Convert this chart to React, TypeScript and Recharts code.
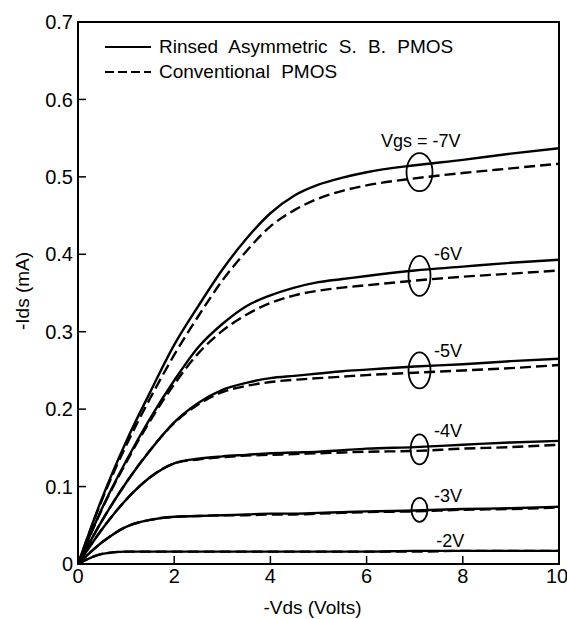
import { LineChart, Line, XAxis, YAxis, ReferenceDot, ReferenceArea, Legend, Label } from 'recharts'

const vds = [0, 0.5, 1, 1.5, 2, 2.5, 3, 3.5, 4, 4.5, 5, 5.5, 6, 7, 8, 9, 10]

// -Ids (mA), solid = rinsed asymmetric S.B. PMOS, dashed = conventional PMOS
const rinsed7 = [0, 0.085, 0.158, 0.222, 0.283, 0.333, 0.38, 0.42, 0.453, 0.476, 0.49, 0.499, 0.506, 0.515, 0.522, 0.53, 0.537]
const conv7 = [0, 0.083, 0.153, 0.214, 0.27, 0.32, 0.366, 0.404, 0.436, 0.457, 0.472, 0.482, 0.489, 0.498, 0.505, 0.511, 0.517]
const rinsed6 = [0, 0.072, 0.133, 0.188, 0.237, 0.28, 0.31, 0.333, 0.347, 0.357, 0.364, 0.368, 0.372, 0.379, 0.384, 0.389, 0.393]
const conv6 = [0, 0.071, 0.131, 0.185, 0.232, 0.272, 0.301, 0.322, 0.337, 0.347, 0.353, 0.357, 0.36, 0.366, 0.371, 0.375, 0.379]
const rinsed5 = [0, 0.056, 0.105, 0.147, 0.183, 0.208, 0.225, 0.234, 0.24, 0.243, 0.246, 0.249, 0.251, 0.255, 0.258, 0.262, 0.265]
const conv5 = [0, 0.056, 0.105, 0.147, 0.182, 0.206, 0.222, 0.23, 0.235, 0.238, 0.24, 0.242, 0.244, 0.247, 0.25, 0.253, 0.257]
const rinsed4 = [0, 0.045, 0.083, 0.112, 0.13, 0.136, 0.139, 0.141, 0.143, 0.144, 0.145, 0.147, 0.149, 0.151, 0.154, 0.157, 0.159]
const conv4 = [0, 0.045, 0.083, 0.112, 0.13, 0.135, 0.138, 0.14, 0.141, 0.142, 0.143, 0.144, 0.145, 0.146, 0.149, 0.151, 0.154]
const rinsed3 = [0, 0.028, 0.048, 0.057, 0.061, 0.062, 0.063, 0.064, 0.065, 0.065, 0.066, 0.067, 0.068, 0.069, 0.071, 0.072, 0.074]
const conv3 = [0, 0.028, 0.048, 0.057, 0.061, 0.062, 0.063, 0.063, 0.064, 0.064, 0.065, 0.066, 0.067, 0.068, 0.07, 0.071, 0.073]
const rinsed2 = [0, 0.013, 0.016, 0.016, 0.016, 0.016, 0.016, 0.016, 0.016, 0.016, 0.016, 0.016, 0.016, 0.017, 0.017, 0.017, 0.017]
const conv2 = [0, 0.013, 0.016, 0.016, 0.016, 0.016, 0.016, 0.016, 0.016, 0.016, 0.016, 0.016, 0.016, 0.016, 0.017, 0.017, 0.017]

const rinsedSeries = [rinsed7, rinsed6, rinsed5, rinsed4, rinsed3, rinsed2]
const convSeries = [conv7, conv6, conv5, conv4, conv3, conv2]

const xTicks = [0, 2, 4, 6, 8, 10]
const yTicks = [0, 0.1, 0.2, 0.3, 0.4, 0.5, 0.6, 0.7]

const vgsLabels = ['Vgs = -7V', '-6V', '-5V', '-4V', '-3V', '-2V']
const labelVds = [6.3, 7.4, 7.4, 7.4, 7.4, 7.45]
const labelIds = [0.546, 0.4, 0.275, 0.172, 0.088, 0.03]

const ovalVds = 7.1
const ovalIds = [0.506, 0.372, 0.25, 0.148, 0.07]
const ovalSize = [[13, 19], [11, 20], [11, 18], [9, 15], [8, 12]]

const legendItems = [
  { name: 'Rinsed Asymmetric S. B. PMOS', dash: undefined },
  { name: 'Conventional PMOS', dash: '9 4' },
]

const data = vds.map((v, i) => {
  const row: Record<string, number> = { vds: v }
  rinsedSeries.forEach((s, k) => (row[`r${k}`] = s[i]))
  convSeries.forEach((s, k) => (row[`c${k}`] = s[i]))
  return row
})

const FONT = 'Liberation Sans, Arial, sans-serif'

function renderLegend() {
  return (
    <div style={{ fontFamily: FONT, fontSize: 19, color: '#000' }}>
      {legendItems.map(item => (
        <div key={item.name} style={{ display: 'flex', alignItems: 'center', height: 25 }}>
          <svg width={50} height={10}>
            <line x1={1} x2={47} y1={5} y2={5} stroke="#000" strokeWidth={2.2} strokeDasharray={item.dash} />
          </svg>
          <span style={{ marginLeft: 5, wordSpacing: 6, whiteSpace: 'nowrap' }}>{item.name}</span>
        </div>
      ))}
    </div>
  )
}

export default function App() {
  return (
    <div style={{ position: 'absolute', left: 0, top: 0, background: '#fff' }}>
      <LineChart width={567} height={619} data={data} margin={{ top: 22, right: 8, left: 0, bottom: 0 }}>
        <XAxis
          dataKey="vds"
          type="number"
          domain={[0, 10]}
          ticks={xTicks}
          height={55}
          tickSize={-8}
          tickMargin={13}
          axisLine={{ stroke: '#000', strokeWidth: 2 }}
          tickLine={{ stroke: '#000', strokeWidth: 1.5 }}
          tick={{ fill: '#000', fontSize: 20, fontFamily: FONT }}
        >
          <Label value="-Vds (Volts)" position="insideBottom" offset={5} dx={-6} style={{ fill: '#000', fontSize: 19, fontFamily: FONT }} />
        </XAxis>
        <YAxis
          type="number"
          domain={[0, 0.7]}
          ticks={yTicks}
          width={78}
          tickSize={-8}
          tickMargin={13}
          tickFormatter={(v: number) => (v === 0 ? '0' : v.toFixed(1))}
          axisLine={{ stroke: '#000', strokeWidth: 2 }}
          tickLine={{ stroke: '#000', strokeWidth: 1.5 }}
          tick={{ fill: '#000', fontSize: 20, fontFamily: FONT }}
        >
          <Label
            content={() => (
              <text
                transform="translate(22,291) rotate(-90)"
                textAnchor="middle"
                dominantBaseline="central"
                style={{ fill: '#000', fontSize: 19, fontFamily: FONT }}
              >
                -Ids (mA)
              </text>
            )}
          />
        </YAxis>
        <ReferenceArea x1={0} x2={10} y1={0} y2={0.7} fill="none" stroke="#000" strokeWidth={2} />
        {rinsedSeries.map((_, k) => (
          <Line
            key={`r${k}`}
            dataKey={`r${k}`}
            type="monotone"
            stroke="#000"
            strokeWidth={2.4}
            dot={false}
            isAnimationActive={false}
          />
        ))}
        {convSeries.map((_, k) => (
          <Line
            key={`c${k}`}
            dataKey={`c${k}`}
            type="monotone"
            stroke="#000"
            strokeWidth={2.4}
            strokeDasharray="11 5"
            dot={false}
            isAnimationActive={false}
          />
        ))}
        {ovalIds.map((y, k) => (
          <ReferenceDot
            key={`o${k}`}
            x={ovalVds}
            y={y}
            r={1}
            shape={(p: any) => (
              <ellipse cx={p.cx} cy={p.cy} rx={ovalSize[k][0]} ry={ovalSize[k][1]} fill="none" stroke="#000" strokeWidth={1.8} />
            )}
          />
        ))}
        {vgsLabels.map((t, k) => (
          <ReferenceDot
            key={`l${k}`}
            x={labelVds[k]}
            y={labelIds[k]}
            r={1}
            shape={(p: any) => (
              <text x={p.cx} y={p.cy} dominantBaseline="central" style={{ fill: '#000', fontSize: 18, fontFamily: FONT }}>
                {t}
              </text>
            )}
          />
        ))}
        <Legend
          layout="horizontal"
          verticalAlign="middle"
          align="center"
          content={renderLegend}
          wrapperStyle={{ top: 34, left: 104, width: 'auto', height: 'auto' }}
        />
      </LineChart>
    </div>
  )
}
